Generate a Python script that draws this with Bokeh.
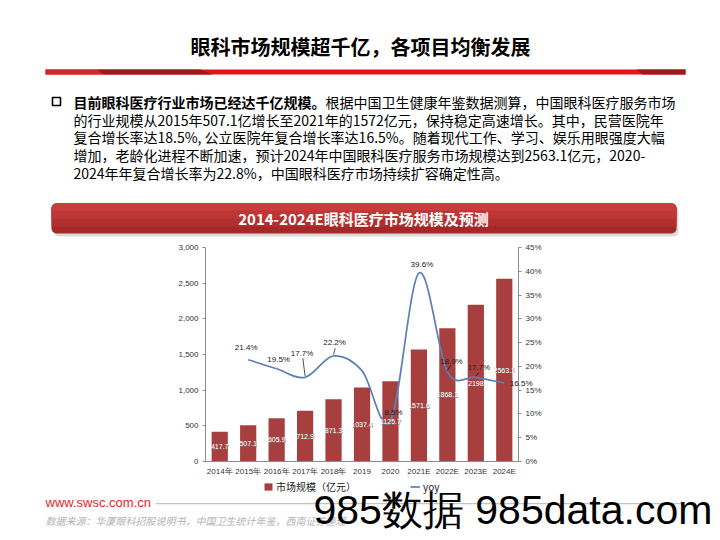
import numpy as np
from bokeh.plotting import figure
from bokeh.models import (ColumnDataSource, Range1d, LinearAxis, FixedTicker, NumeralTickFormatter,
                          PrintfTickFormatter, Label, LabelSet, BoxAnnotation, PolyAnnotation,
                          Legend, LegendItem)
from bokeh.core.properties import value
from bokeh.embed import file_html
from bokeh.resources import INLINE

# ---------------- data ----------------
years = ["2014年", "2015年", "2016年", "2017年", "2018年", "2019", "2020",
         "2021E", "2022E", "2023E", "2024E"]
market = [417.7, 507.1, 605.9, 712.9, 871.3, 1037.4, 1125.7, 1571.6, 1868.1, 2198.0, 2563.1]
market_labels = ["417.7", "507.1", "605.9", "712.9", "871.3", "1037.4", "1125.7",
                 "1571.6", "1868.1", "2198", "2563.1"]
yoy = [21.4, 19.5, 17.7, 22.2, 19.1, 8.5, 39.6, 18.9, 17.7, 16.5]          # 2015 .. 2024E
yoy_labels = ["21.4%", "19.5%", "17.7%", "22.2%", "", "8.5%", "39.6%", "18.9%", "17.7%", "16.5%"]
left_ticks = [0, 500, 1000, 1500, 2000, 2500, 3000]
right_ticks = [0, 5, 10, 15, 20, 25, 30, 35, 40, 45]

title = "眼科市场规模超千亿，各项目均衡发展"
body_bold = "目前眼科医疗行业市场已经达千亿规模。"
body_lines = [
    "根据中国卫生健康年鉴数据测算，中国眼科医疗服务市场",
    "的行业规模从2015年507.1亿增长至2021年的1572亿元，保持稳定高速增长。其中，民营医院年",
    "复合增长率达18.5%, 公立医院年复合增长率达16.5%。随着现代工作、学习、娱乐用眼强度大幅",
    "增加，老龄化进程不断加速，预计2024年中国眼科医疗服务市场规模达到2563.1亿元，2020-",
    "2024年年复合增长率为22.8%，中国眼科医疗市场持续扩容确定性高。",
]
chart_title = "2014-2024E眼科医疗市场规模及预测"
legend_labels = ["市场规模（亿元）", "yoy"]
site = "www.swsc.com.cn"
source_note = "数据来源：华厦眼科招股说明书，中国卫生统计年鉴，西南证券整理"
watermark = "985数据 985data.com"

# ---------------- style ----------------
BAR = "#a83f3f"
LINE = "#5b80b6"
AX = "#8c8c8c"
TXT = "#333333"
CJK = "Noto Sans CJK SC"
LAT = "Liberation Sans"

W, H = 720, 540
# where the chart's plotting box sits on the page (px, from top-left)
CL, CR, CT, CB = 205, 518, 247, 461

# The figure's frame is the whole page; the ranges are set so that the
# chart's own data area lands on the box above.
X0, X1 = -0.5, len(years) - 0.5
Y0, Y1 = 0, left_ticks[-1]
P0, P1 = 0, right_ticks[-1]
kx = (X1 - X0) / (CR - CL)
ky = (Y1 - Y0) / (CB - CT)
kp = (P1 - P0) / (CB - CT)

p = figure(frame_width=W, frame_height=H, output_backend="svg", toolbar_location=None,
           title=None, min_border=0, min_border_left=0, min_border_right=0,
           min_border_top=0, min_border_bottom=0,
           x_range=Range1d(X0 - CL * kx, X1 + (W - CR) * kx),
           y_range=Range1d(Y0 - (H - CB) * ky, Y1 + CT * ky))
p.extra_y_ranges = {"pct": Range1d(P0 - (H - CB) * kp, P1 + CT * kp)}
p.outline_line_color = None
p.grid.visible = False
p.background_fill_color = "white"
p.border_fill_color = "white"


def style_axis(ax, ticks_out):
    ax.axis_line_color = AX
    ax.major_tick_line_color = AX if ticks_out else None
    ax.major_tick_in = 0
    ax.major_tick_out = ticks_out
    ax.minor_tick_line_color = None
    ax.major_label_text_font = LAT
    ax.major_label_text_font_size = "8px"
    ax.major_label_text_color = TXT


xa = p.xaxis[0]
xa.fixed_location = Y0
xa.bounds = (X0, X1)
xa.ticker = FixedTicker(ticks=list(range(len(years))))
xa.major_label_overrides = {i: y for i, y in enumerate(years)}
style_axis(xa, 0)
xa.major_label_standoff = 5

ya = p.yaxis[0]
ya.fixed_location = X0
ya.bounds = (Y0, Y1)
ya.ticker = FixedTicker(ticks=left_ticks)
ya.formatter = NumeralTickFormatter(format="0,0")
style_axis(ya, 3)
ya.major_label_standoff = 4

ra = LinearAxis(y_range_name="pct", ticker=FixedTicker(ticks=right_ticks),
                formatter=PrintfTickFormatter(format="%d%%"), fixed_location=X1,
                bounds=(P0, P1))
style_axis(ra, 3)
ra.major_label_standoff = 4
p.add_layout(ra, "right")

# bars
idx = np.arange(len(years))
bsrc = ColumnDataSource(dict(x=idx, top=market, mid=np.array(market) / 2.0, lbl=market_labels))
bars = p.vbar(x="x", top="top", width=0.57, source=bsrc, fill_color=BAR, line_color=None)
p.add_layout(LabelSet(x="x", y="mid", text="lbl", source=bsrc, text_align="center",
                      text_baseline="middle", text_color="#7a7a7a", text_font=value(LAT),
                      text_font_size="7px", x_offset=0.7, y_offset=-0.7))
p.add_layout(LabelSet(x="x", y="mid", text="lbl", source=bsrc, text_align="center",
                      text_baseline="middle", text_color="white", text_font=value(LAT),
                      text_font_size="7px"))

# smoothed yoy line (Catmull-Rom through the data points, drawn as Bezier segments)
yx = idx[1:].astype(float)
yy = np.array(yoy, dtype=float)
n = len(yx)
x0, y0, x1, y1, cx0, cy0, cx1, cy1 = ([] for _ in range(8))
for i in range(n - 1):
    a = i - 1 if i > 0 else i
    d = i + 2 if i + 2 < n else i + 1
    x0.append(yx[i]); y0.append(yy[i]); x1.append(yx[i + 1]); y1.append(yy[i + 1])
    cx0.append(yx[i] + (yx[i + 1] - yx[a]) / 6.0)
    cy0.append(yy[i] + (yy[i + 1] - yy[a]) / 6.0)
    cx1.append(yx[i + 1] - (yx[d] - yx[i]) / 6.0)
    cy1.append(yy[i + 1] - (yy[d] - yy[i]) / 6.0)
line_r = p.bezier(x0=x0, y0=y0, x1=x1, y1=y1, cx0=cx0, cy0=cy0, cx1=cx1, cy1=cy1,
                  line_color=LINE, line_width=1.7, y_range_name="pct")

# yoy labels (pixel offsets from each point)
dx = [-2, 2, -3, 1, 0, 3, 3, 4, 3, 17]
dy = [12, 9, 24, 13, 0, 9, 9, 10, 10, 0]
lsrc = ColumnDataSource(dict(x=yx, y=yy, t=yoy_labels, dx=dx, dy=dy))
p.add_layout(LabelSet(x="x", y="y", text="t", source=lsrc, x_offset="dx", y_offset="dy",
                      y_range_name="pct", text_align="center", text_baseline="middle",
                      text_color="#222222", text_font=value(LAT), text_font_size="8px"))
# small leader lines for the moved labels
lead_i = [2, 3, 7, 8]
lead_dx = [-0.08, 0.06, 0.12, 0.1]
lead_y0 = [0.3, 0.3, 0.2, 0.2]
lead_y1 = [4.0, 1.6, 1.4, 1.0]
p.segment(x0=[yx[i] for i in lead_i], y0=[yy[i] + a for i, a in zip(lead_i, lead_y0)],
          x1=[yx[i] + b for i, b in zip(lead_i, lead_dx)],
          y1=[yy[i] + c for i, c in zip(lead_i, lead_y1)],
          line_color="#222222", line_width=0.8, y_range_name="pct")

legend = Legend(items=[LegendItem(label=legend_labels[0], renderers=[bars]),
                       LegendItem(label=legend_labels[1], renderers=[line_r])],
                orientation="horizontal", location=(263, H - 494),
                label_text_font=CJK, label_text_font_size="10px",
                label_text_color="#222222", glyph_width=10, glyph_height=9,
                label_height=12, label_width=10,
                label_standoff=3, spacing=54, padding=0, margin=0,
                border_line_color=None, background_fill_alpha=0)
p.add_layout(legend)


# ---------------- page decorations (screen px from the page's top-left) ----------------
def sy(py):
    return H - py


def box(l, r, t, b, color, radius=0, line=None, lw=1.0, alpha=1.0):
    p.add_layout(BoxAnnotation(left=l, right=r, top=sy(t), bottom=sy(b),
                               left_units="screen", right_units="screen",
                               top_units="screen", bottom_units="screen",
                               fill_color=color, fill_alpha=alpha if color else 0,
                               line_color=line, line_alpha=1 if line else 0, line_width=lw,
                               border_radius=radius, level="underlay"))


def poly(xs, ys, color):
    p.add_layout(PolyAnnotation(xs=list(xs), ys=[sy(v) for v in ys],
                                xs_units="screen", ys_units="screen",
                                fill_color=color, fill_alpha=1, line_alpha=0, level="underlay"))


def label(px, py, text, size, color="#000000", font=CJK, style="normal", align="left"):
    p.add_layout(Label(x=px, y=sy(py), x_units="screen", y_units="screen", text=text,
                       text_font=font, text_font_size=size, text_color=color,
                       text_font_style=style, text_align=align, text_baseline="middle"))


# title and red rule
label(360, 46, title, "20px", style="bold", align="center")
box(45, 685, 69, 74, "#e3141c")
poly([45, 97, 103, 45], [69, 69, 74, 74], "#cf2a2a")
poly([97, 200, 212, 103], [69, 69, 74, 74], "#9b1b1d")
poly([636, 685, 685, 642], [69, 69, 74, 74], "#9b1b1d")

# bullet + body text
box(52, 60, 97, 105, None, line="#000000", lw=1.6)
label(73, 101, body_bold, "14px", style="bold")
label(73 + 14 * len(body_bold), 101, body_lines[0], "14px")
for k, ln in enumerate(body_lines[1:]):
    label(73, 119 + 17.8 * k, ln, "14px")

# chart banner with a soft gradient and shadow
box(53, 678, 206, 236, "#dadada", radius=5)
box(51, 676, 203, 233, "#a52828", radius=5)
box(51, 676, 203, 226, "#b22f2f", radius=(5, 5, 0, 0))
box(51, 676, 203, 218, "#bf3636", radius=(5, 5, 0, 0))
box(51, 676, 203, 210, "#ca3d3d", radius=(5, 5, 0, 0))
label(363, 218, chart_title, "15px", color="white", style="bold", align="center")

# footer
label(45, 502, site, "13px", color="#e0262b", font=LAT)
box(155, 682, 502.4, 503.8, "#c4c4c4")
label(45, 520, source_note, "10px", color="#b4b4b4", style="italic")
label(313, 509, watermark, "41px", color="#000000", font=LAT)

open("out.html", "w").write(file_html(p, INLINE))
